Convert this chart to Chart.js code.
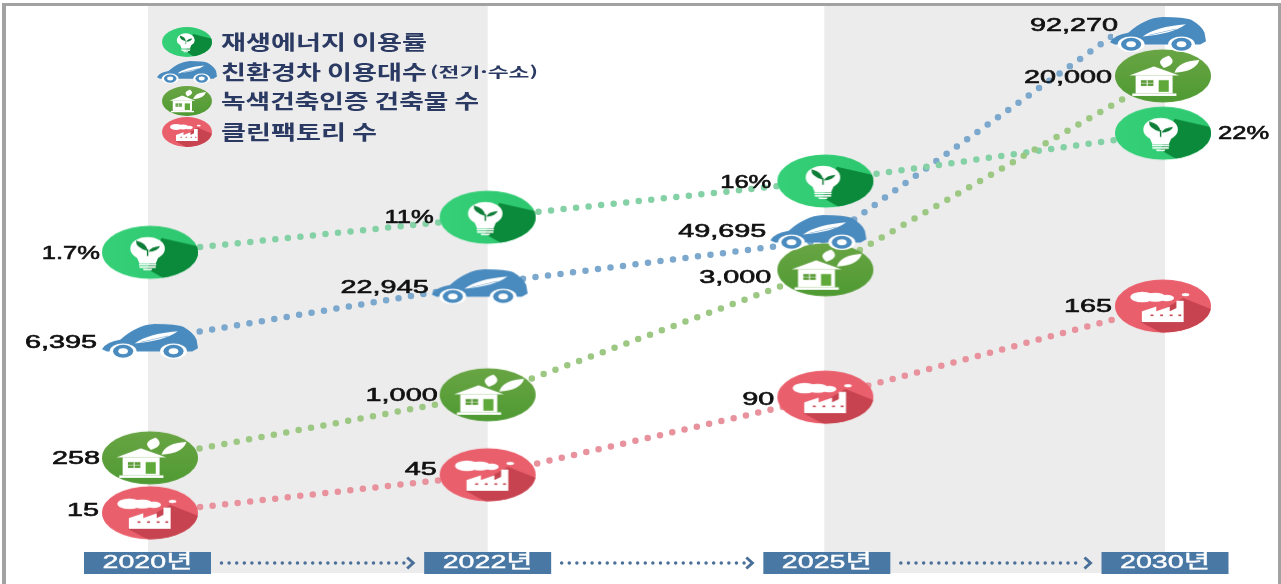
<!DOCTYPE html>
<html lang="ko">
<head>
<meta charset="utf-8">
<title>Chart</title>
<style>
html,body{margin:0;padding:0;background:#fff;overflow:hidden}
#wrap{position:relative;width:1281px;height:584px}
canvas#c{display:block;filter:blur(0.5px)}
</style>
<script src="https://cdn.jsdelivr.net/npm/chart.js@4/dist/chart.umd.min.js"></script>
</head>
<body>
<div id="wrap"><canvas id="c" width="1281" height="584"></canvas></div>
<script>
// ---- data ----
const years = ['2020년', '2022년', '2025년', '2030년'];
const renewableLabels = ['1.7%', '11%', '16%', '22%'];
const carLabels = ['6,395', '22,945', '49,695', '92,270'];
const buildingLabels = ['258', '1,000', '3,000', '20,000'];
const factoryLabels = ['15', '45', '90', '165'];
const renewableLevels = [56.8, 62.8, 69.0, 77.2];
const carLevels = [41.8, 51.5, 58.9, 100.0];
const buildingLevels = [21.6, 32.4, 53.8, 87.0];
const factoryLevels = [12.2, 18.7, 32.0, 47.6];

// ---- layout and style ----
const W = 1281, H = 584;
const NUM_FONT = '18px "Liberation Sans", Arial, sans-serif';
const KR_FONT = 'bold 20px "Noto Sans CJK KR", sans-serif';

function ell(g, x, y, rx, ry, fill) {
  g.beginPath(); g.ellipse(x, y, rx, ry, 0, 0, Math.PI * 2);
  g.fillStyle = fill; g.fill();
}
function poly(g, pts, fill) {
  g.beginPath(); pts.forEach((p, i) => i ? g.lineTo(p[0], p[1]) : g.moveTo(p[0], p[1]));
  g.closePath(); g.fillStyle = fill; g.fill();
}
function leaf(g, x0, y0, x1, y1, bulge, fill) {
  const mx = (x0 + x1) / 2, my = (y0 + y1) / 2, nx = -(y1 - y0), ny = x1 - x0;
  g.beginPath(); g.moveTo(x0, y0);
  g.quadraticCurveTo(mx + nx * bulge, my + ny * bulge, x1, y1);
  g.quadraticCurveTo(mx - nx * bulge, my - ny * bulge, x0, y0);
  g.fillStyle = fill; g.fill();
}
function circleClip(g) { g.beginPath(); g.arc(0, 0, 100, 0, Math.PI * 2); g.clip(); }

function drawBulb(g) {
  const grad = g.createLinearGradient(-100, 0, 100, 0);
  grad.addColorStop(0, '#35d078'); grad.addColorStop(1, '#2cc76e');
  ell(g, 0, 0, 100, 100, grad);
  g.save(); circleClip(g);
  poly(g, [[24, -54], [120, -14], [120, 40], [40, 110], [-6, 62]], '#0b8a3b');
  g.restore();
  const bx = -5;
  ell(g, bx, -14, 36, 44, '#fff');
  poly(g, [[bx - 25, 8], [bx + 25, 8], [bx + 17, 42], [bx - 17, 42]], '#fff');
  poly(g, [[bx - 18, 44], [bx + 18, 44], [bx + 18, 50], [bx - 18, 50]], '#fff');
  poly(g, [[bx - 17, 53], [bx + 17, 53], [bx + 17, 59], [bx - 17, 59]], '#fff');
  poly(g, [[bx - 10, 62], [bx + 10, 62], [bx + 8, 68], [bx - 8, 68]], '#fff');
  leaf(g, bx - 1, -6, bx - 24, -44, 0.34, '#0d7d38');
  leaf(g, bx + 2, -2, bx + 26, -24, 0.34, '#0d7d38');
  g.strokeStyle = '#0d7d38'; g.lineWidth = 3;
  g.beginPath(); g.moveTo(bx, -12); g.lineTo(bx, 14); g.stroke();
}
function drawHouse(g) {
  const grad = g.createLinearGradient(0, -100, 0, 100);
  grad.addColorStop(0, '#69a544'); grad.addColorStop(1, '#4f9a33');
  ell(g, 0, 0, 100, 100, grad);
  leaf(g, 2, -30, 12, -76, 0.55, '#fff');
  leaf(g, 24, -12, 76, -60, 0.38, '#fff');
  poly(g, [[-19, -36], [34, -2], [-70, -2]], '#fff');
  poly(g, [[-57, -2], [20, -2], [20, 66], [-57, 66]], '#fff');
  poly(g, [[-64, 66], [28, 66], [28, 75], [-64, 75]], '#fff');
  poly(g, [[-46, 16], [-20, 16], [-20, 38], [-46, 38]], '#5a9c38');
  g.fillStyle = '#fff'; g.fillRect(-34, 16, 2, 22); g.fillRect(-46, 26, 26, 2);
  poly(g, [[-9, 16], [12, 16], [12, 60], [-9, 60]], '#5fa93a');
}
function drawFactory(g) {
  ell(g, 0, 0, 100, 100, '#ea5f6c');
  g.save(); circleClip(g);
  poly(g, [[42, -30], [120, 25], [120, 60], [10, 115], [-46, 60]], '#c7434f');
  g.restore();
  ell(g, -43, -34, 25, 20, '#fff');
  ell(g, -16, -33, 22, 17, '#fff');
  ell(g, 8, -30, 15, 12, '#fff');
  ell(g, 47, -43, 8, 6, '#fff');
  poly(g, [[-44, 20], [-14, 2], [-14, 20], [14, 2], [14, 20], [28, 8], [28, -20], [43, -20], [43, 60], [-44, 60]], '#fff');
  [-26, -6, 14, 32].forEach(x => { g.fillStyle = '#c7434f'; g.fillRect(x, 32, 6, 6); });
}
function drawCar(g) {
  const blue = '#4a8bbf';
  g.beginPath();
  g.moveTo(-100, 48);
  g.quadraticCurveTo(-92, 5, -62, -8);
  g.quadraticCurveTo(-42, -55, -28, -72);
  g.quadraticCurveTo(-10, -98, 10, -100);
  g.quadraticCurveTo(55, -100, 70, -82);
  g.quadraticCurveTo(92, -45, 97, -8);
  g.lineTo(100, 42);
  g.lineTo(88, 62); g.lineTo(-90, 62); g.closePath();
  g.fillStyle = blue; g.fill();
  // white leaf in the windshield, with a blue vein
  leaf(g, -32, 14, 58, -58, 0.24, '#fff');
  g.strokeStyle = blue; g.lineWidth = 3;
  g.beginPath(); g.moveTo(-20, 8); g.lineTo(38, -30); g.stroke();
  [-56, 49].forEach(x => {
    ell(g, x, 60, 28, 46, '#fff');
    ell(g, x, 60, 21, 38, blue);
    ell(g, x, 60, 10, 18, '#fff');
  });
}
const painters = { bulb: drawBulb, car: drawCar, house: drawHouse, factory: drawFactory };

function makeIcon(kind, rx, ry, dx = 0, dy = 0) {
  const c = document.createElement('canvas');
  c.width = 2 * Math.ceil(rx + Math.abs(dx) + 4);
  c.height = 2 * Math.ceil(ry + Math.abs(dy) + 8);
  const g = c.getContext('2d');
  g.translate(c.width / 2 + dx, c.height / 2 + dy);
  g.scale(rx / 100, ry / 100);
  painters[kind](g);
  return c;
}
function fitText(ctx, text, x, y, font, color, opts) {
  const o = opts || {};
  ctx.save();
  ctx.font = font; ctx.fillStyle = color; ctx.textBaseline = 'middle'; ctx.textAlign = 'left';
  const m = ctx.measureText(text).width;
  const sx = o.width ? o.width / m : (o.stretch || 1);
  const left = o.align === 'right' ? x - m * sx : o.align === 'center' ? x - m * sx / 2 : x;
  ctx.translate(left, y); ctx.scale(sx, 1);
  ctx.fillText(text, 0, 0);
  if (o.stroke) { ctx.strokeStyle = color; ctx.lineWidth = o.stroke; ctx.strokeText(text, 0, 0); }
  ctx.restore();
}

const R = [48, 26.5];
const carR = [48, 17];
const bulbIcons = [0, 1, 2, 3].map(() => makeIcon('bulb', R[0], R[1]));
const houseIcons = [0, 1, 2, 3].map(() => makeIcon('house', R[0], R[1]));
const factoryIcons = [0, 1, 2, 3].map(() => makeIcon('factory', R[0], R[1]));
const carNudge = [[0, 1], [-8, 3], [-7, -8], [-5, 34]];
const carIcons = carNudge.map(n => makeIcon('car', carR[0], carR[1], n[0], n[1]));

// [x offset of the text edge, y offset] from each point
const labelSeries = [
  { set: 1, texts: factoryLabels, stretch: 1.6, off: [[-51, -2], [-51, -5], [-51, 3], [-51, 1]] },
  { set: 2, texts: buildingLabels, stretch: 1.6, off: [[-50, 1], [-50, 1], [-54, 8], [-51, 2]] },
  { set: 3, texts: renewableLabels, stretch: 1.42, off: [[-50, 2], [-54, 1], [-54, 2], [55, 1]] },
  { set: 0, texts: carLabels, stretch: 1.6, off: [[-53, 3], [-59, 5], [-59, -8], [-45, 26]] }
];
const legendRows = [
  { icon: makeIcon('bulb', 25, 15), y: 42, parts: [['재생에너지 이용률', 221, 206, KR_FONT]] },
  { icon: makeIcon('car', 30, 11), y: 72, parts: [['친환경차 이용대수', 221, 206, KR_FONT], ['(전기·수소)', 430, 108, 'bold 14px "Noto Sans CJK KR", sans-serif']] },
  { icon: makeIcon('house', 25, 15), y: 101, parts: [['녹색건축인증 건축물 수', 221, 258, KR_FONT]] },
  { icon: makeIcon('factory', 25, 15), y: 132, parts: [['클린팩토리 수', 221, 156, KR_FONT]] }
];

const decor = {
  id: 'decor',
  beforeDatasetsDraw(chart) {
    const ctx = chart.ctx, xs = chart.scales.x;
    const p = i => xs.getPixelForValue(i);
    ctx.save();
    ctx.fillStyle = '#fff'; ctx.fillRect(0, 0, W, H);
    ctx.fillStyle = '#ececec';
    ctx.fillRect(p(0) - 2, 6, p(1) - p(0) + 2, 567);
    ctx.fillRect(p(2) - 1, 6, p(3) - p(2) + 3, 567);
    ctx.fillStyle = '#a2a2a2';
    ctx.fillRect(2, 3, W - 2, 3);
    ctx.fillRect(2, 3, 4, H - 3);
    ctx.fillRect(1278, 3, 3, H - 3);
    ctx.restore();
  },
  afterDatasetsDraw(chart) {
    const ctx = chart.ctx, xs = chart.scales.x;
    // value labels
    labelSeries.forEach(s => {
      const pts = chart.getDatasetMeta(s.set).data;
      s.texts.forEach((t, i) => {
        const [dx, dy] = s.off[i];
        fitText(ctx, t, pts[i].x + dx, pts[i].y + dy, NUM_FONT, '#111', { stretch: s.stretch, align: dx < 0 ? 'right' : 'left', stroke: 0.6 });
      });
    });
    // year boxes on the category axis, with arrows between them
    const boxC = years.map((_, i) => xs.getPixelForValue(i) + [-2.5, 0, 1.5, 2][i]);
    years.forEach((y, i) => {
      const cx = boxC[i];
      ctx.fillStyle = '#4a78a4';
      ctx.fillRect(cx - 63.5, 552, 127, 22);
      fitText(ctx, y, cx, 563, '19px "Liberation Sans", "Noto Sans CJK KR", sans-serif', '#fff', { width: 90, align: 'center', stroke: 0.4 });
      if (i < 3) {
        const x0 = cx + 74, x1 = boxC[i + 1] - 63.5 - 19;
        ctx.save();
        ctx.strokeStyle = '#4a7099'; ctx.lineWidth = 3.5; ctx.lineCap = 'round';
        ctx.setLineDash([0, 7.6]);
        ctx.beginPath(); ctx.moveTo(x0, 563); ctx.lineTo(x1, 563); ctx.stroke();
        ctx.setLineDash([]); ctx.lineWidth = 3; ctx.lineCap = 'butt';
        ctx.beginPath(); ctx.moveTo(x1 + 2, 557.5); ctx.lineTo(x1 + 8, 563); ctx.lineTo(x1 + 2, 568.5); ctx.stroke();
        ctx.restore();
      }
    });
    // legend
    legendRows.forEach(r => {
      ctx.drawImage(r.icon, 187 - r.icon.width / 2, r.y - r.icon.height / 2);
      r.parts.forEach(([t, x, w, f]) => fitText(ctx, t, x, r.y, f, '#2b3a63', { width: w }));
    });
  }
};

function dataset(label, levels, color, icons) {
  return {
    label, data: levels, borderColor: color, borderWidth: 6.5, borderCapStyle: 'round',
    borderDash: [0, 12.6], tension: 0, fill: false, clip: false,
    pointStyle: c => icons[c.dataIndex], pointRadius: 30, pointHoverRadius: 30,
    pointBorderWidth: 0, pointBackgroundColor: color
  };
}
// the car line stops at the rear of the last car, so its line and its icons are separate marks
const carMarks = Object.assign(dataset('친환경차 이용대수(전기·수소)', carLevels, '#7ba8cc', carIcons), { showLine: false });
const carLine = Object.assign(dataset('친환경차 이용대수(전기·수소) 선', carLevels, '#7ba8cc', carIcons),
  { pointRadius: 0, pointHoverRadius: 0, clip: { left: 100, top: 100, bottom: 100, right: -50 } });

new Chart(document.getElementById('c'), {
  type: 'line',
  data: {
    labels: years,
    datasets: [
      carMarks,
      dataset('클린팩토리 수', factoryLevels, '#e8929d', factoryIcons),
      dataset('녹색건축인증 건축물 수', buildingLevels, '#9cc883', houseIcons),
      dataset('재생에너지 이용률', renewableLevels, '#84d1a6', bulbIcons),
      carLine
    ]
  },
  options: {
    responsive: false, animation: false, events: [],
    layout: { autoPadding: false, padding: { left: 150, right: 118, top: 0, bottom: 0 } },
    scales: {
      x: { type: 'category', display: false, offset: false },
      y: { type: 'linear', display: false, min: 0, max: 100 }
    },
    plugins: { legend: { display: false }, tooltip: { enabled: false }, title: { display: false } }
  },
  plugins: [decor]
});
</script>
</body>
</html>
